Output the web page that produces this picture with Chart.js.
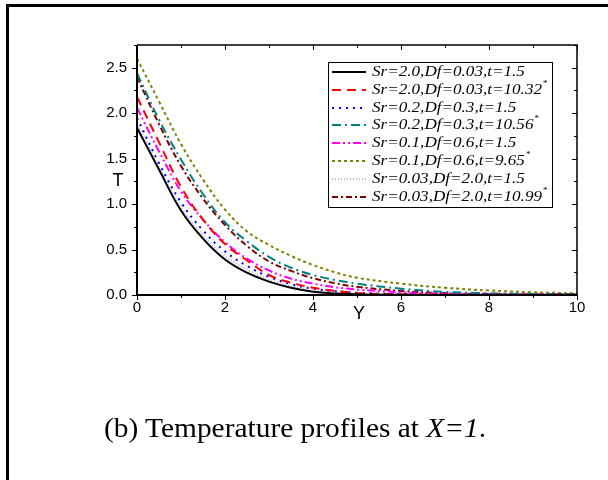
<!DOCTYPE html>
<html>
<head>
<meta charset="utf-8">
<script src="https://cdn.jsdelivr.net/npm/chart.js@4.4.0/dist/chart.umd.min.js"></script>
<style>
  html, body { margin: 0; padding: 0; background: #fff; }
  #wrap { position: relative; width: 608px; height: 480px; overflow: hidden; }
  #frame { position: absolute; left: 6px; top: 4px; width: 620px; height: 500px; border-left: 3px solid #000; border-top: 3px solid #000; }
  #chart { position: absolute; left: 0; top: 0; }
  #caption { position: absolute; left: 104px; top: 412px; font: 28px 'Liberation Serif', 'Times New Roman', serif; white-space: nowrap; color: #000; transform: scaleX(1.05); transform-origin: left top; }
</style>
</head>
<body>
<div id="wrap">
  <div id="frame"></div>
  <canvas id="chart" width="608" height="480"></canvas>
  <div id="caption">(b) Temperature profiles at <i>X=1</i>.</div>
</div>
<script>
// Y positions where the curves were read
const yPos = [0, 0.5, 1, 1.5, 2, 2.5, 3, 3.5, 4, 4.5, 5, 6, 7, 8, 9, 10];

// T values for each case
const tSr20t15    = [1.84, 1.38, 0.93, 0.62, 0.39, 0.245, 0.147, 0.08, 0.037, 0.017, 0.007, 0.002, 0, 0, 0, 0];
const tSr20t1032  = [2.18, 1.68, 1.19, 0.83, 0.56, 0.38, 0.22, 0.135, 0.08, 0.046, 0.02, 0.008, 0.004, 0.003, 0.003, 0.003];
const tSr02t15    = [1.95, 1.45, 1.02, 0.71, 0.48, 0.32, 0.20, 0.12, 0.07, 0.042, 0.025, 0.01, 0.005, 0.003, 0.002, 0.002];
const tSr02t1056  = [2.44, 1.93, 1.49, 1.11, 0.80, 0.59, 0.42, 0.30, 0.22, 0.165, 0.125, 0.07, 0.035, 0.02, 0.012, 0.01];
const tSr01t15    = [2.06, 1.58, 1.14, 0.83, 0.58, 0.40, 0.27, 0.18, 0.125, 0.085, 0.06, 0.03, 0.015, 0.01, 0.008, 0.006];
const tSr01t965   = [2.60, 2.13, 1.66, 1.27, 0.94, 0.70, 0.55, 0.43, 0.33, 0.25, 0.19, 0.125, 0.08, 0.05, 0.03, 0.018];
const tSr003t15   = [1.89, 1.41, 0.97, 0.66, 0.43, 0.28, 0.17, 0.10, 0.052, 0.027, 0.013, 0.004, 0.002, 0.002, 0.002, 0.002];
const tSr003t1099 = [2.40, 1.88, 1.42, 1.06, 0.77, 0.54, 0.37, 0.265, 0.185, 0.13, 0.09, 0.045, 0.02, 0.012, 0.008, 0.006];

const labels = [
  'Sr=2.0,Df=0.03,t=1.5',
  'Sr=2.0,Df=0.03,t=10.32*',
  'Sr=0.2,Df=0.3,t=1.5',
  'Sr=0.2,Df=0.3,t=10.56*',
  'Sr=0.1,Df=0.6,t=1.5',
  'Sr=0.1,Df=0.6,t=9.65*',
  'Sr=0.03,Df=2.0,t=1.5',
  'Sr=0.03,Df=2.0,t=10.99*'
];
const series = [tSr20t15, tSr20t1032, tSr02t15, tSr02t1056, tSr01t15, tSr01t965, tSr003t15, tSr003t1099];
const colors = ['#000000', '#ff0000', '#0000ff', '#008080', '#ff00ff', '#808000', '#b4b4ee', '#800000'];
const dashes = [[], [9, 6], [2, 5], [9, 4, 2, 4], [8, 3, 2, 3, 2, 3], [3, 3], [1, 2], [6, 3, 2, 3]];

const xTicks = [0, 2, 4, 6, 8, 10];
const yTicks = [0.0, 0.5, 1.0, 1.5, 2.0, 2.5];

const datasets = series.map((vals, i) => ({
    label: labels[i],
    data: vals.map((v, k) => ({ x: yPos[k], y: v })),
    borderColor: colors[i],
    borderDash: dashes[i],
    borderWidth: 2,
    pointRadius: 0,
    fill: false,
    tension: 0.4
}));

// frame, ticks and axis titles
const frameTicks = {
    id: 'frameTicks',
    afterDatasetsDraw(chart) {
        const { ctx, chartArea: a, scales: { x, y } } = chart;
        ctx.save();
        ctx.strokeStyle = '#000';
        ctx.lineWidth = 1;
        for (let v = 0; v <= 10; v++) {
            const px = Math.round(x.getPixelForValue(v)) + 0.5;
            const len = v % 2 === 0 ? 5 : 3;
            ctx.beginPath();
            ctx.moveTo(px, a.bottom); ctx.lineTo(px, a.bottom + len);
            ctx.moveTo(px, a.top); ctx.lineTo(px, a.top + len);
            ctx.stroke();
        }
        for (let k = 0; k <= 11; k++) {
            const v = k * 0.25;
            const py = Math.round(y.getPixelForValue(v)) + 0.5;
            const len = k % 2 === 0 ? 5 : 3;
            ctx.beginPath();
            ctx.moveTo(a.left, py); ctx.lineTo(a.left - len, py);
            ctx.moveTo(a.right, py); ctx.lineTo(a.right - len, py);
            ctx.stroke();
        }
        ctx.lineWidth = 1.5;
        ctx.beginPath();
        ctx.moveTo(a.left, a.top); ctx.lineTo(a.right, a.top); ctx.lineTo(a.right, a.bottom);
        ctx.stroke();
        ctx.lineWidth = 2;
        ctx.beginPath();
        ctx.moveTo(a.left, a.top); ctx.lineTo(a.left, a.bottom); ctx.lineTo(a.right, a.bottom);
        ctx.stroke();

        ctx.fillStyle = '#000';
        ctx.font = '18px "Liberation Sans", Arial, sans-serif';
        ctx.textAlign = 'center';
        ctx.textBaseline = 'middle';
        ctx.fillText('T', a.left - 19, 181);
        ctx.fillText('Y', (a.left + a.right) / 2 + 2, 314);
        ctx.restore();
    }
};

// legend box inside the plot
const innerLegend = {
    id: 'innerLegend',
    afterDraw(chart) {
        const { ctx, chartArea: a } = chart;
        const left = a.left + 191, top = a.top + 17, rowH = 17.8, stretch = 1.14;
        const font = 'italic 15px "Liberation Serif", "Times New Roman", serif';
        ctx.save();
        ctx.font = font;
        let maxW = 0;
        labels.forEach(l => { maxW = Math.max(maxW, ctx.measureText(l.replace('*', '')).width); });
        const boxW = Math.round(44 + maxW * stretch + 10), boxH = Math.round(rowH * labels.length + 3);
        ctx.fillStyle = '#fff';
        ctx.fillRect(left, top, boxW, boxH);
        ctx.strokeStyle = '#000';
        ctx.lineWidth = 1;
        ctx.strokeRect(left + 0.5, top + 0.5, boxW, boxH);
        chart.data.datasets.forEach((ds, i) => {
            const cy = Math.round(top + 10 + i * rowH);
            ctx.strokeStyle = ds.borderColor;
            ctx.lineWidth = 2;
            ctx.setLineDash(ds.borderDash);
            ctx.beginPath();
            ctx.moveTo(left + 4, cy); ctx.lineTo(left + 38, cy);
            ctx.stroke();
            ctx.setLineDash([]);
            const txt = labels[i].replace('*', '');
            ctx.fillStyle = '#000';
            ctx.font = font;
            ctx.textBaseline = 'middle';
            ctx.textAlign = 'left';
            const w = ctx.measureText(txt).width * stretch;
            ctx.save();
            ctx.translate(left + 44, cy);
            ctx.scale(stretch, 1);
            ctx.fillText(txt, 0, 0);
            ctx.restore();
            if (labels[i].endsWith('*')) {
                ctx.font = '9px "Liberation Serif", serif';
                ctx.fillText('*', left + 45 + w, cy - 6);
            }
        });
        ctx.restore();
    }
};

new Chart(document.getElementById('chart'), {
    type: 'line',
    data: { datasets },
    plugins: [frameTicks, innerLegend],
    options: {
        responsive: false,
        devicePixelRatio: 1,
        animation: false,
        layout: { padding: { left: 77, top: 45, right: 31, bottom: 155 } },
        plugins: { legend: { display: false }, tooltip: { enabled: false } },
        scales: {
            x: {
                type: 'linear',
                min: 0, max: 10,
                afterFit: s => { s.height = 30; },
                afterBuildTicks: s => { s.ticks = xTicks.map(v => ({ value: v })); },
                grid: { display: false, drawTicks: false },
                border: { display: false },
                ticks: { padding: 4, color: '#000', font: { family: 'Liberation Sans', size: 15 }, maxRotation: 0 }
            },
            y: {
                min: 0, max: 2.75,
                afterFit: s => { s.width = 60; },
                afterBuildTicks: s => { s.ticks = yTicks.map(v => ({ value: v })); },
                grid: { display: false, drawTicks: false },
                border: { display: false },
                ticks: { padding: 10, color: '#000', font: { family: 'Liberation Sans', size: 15 }, callback: v => v.toFixed(1) }
            }
        }
    }
});
</script>
</body>
</html>
